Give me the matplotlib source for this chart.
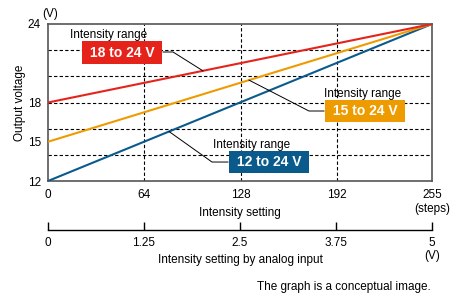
import matplotlib
matplotlib.use("Agg")
import matplotlib.pyplot as plt

plt.rcParams['font.family'] = ['Liberation Sans', 'DejaVu Sans']

# === Data ===
steps = [0, 255]
range_labels = ['12 to 24 V', '15 to 24 V', '18 to 24 V']
v_start = [12, 15, 18]
v_end = [24, 24, 24]
colors = ['#0b5a8c', '#ee9b00', '#e5231b']

x_ticks = [0, 64, 128, 192, 255]
y_ticks = [12, 15, 18, 24]
y_grid = [14, 16, 18, 20, 22]
analog_ticks = [0, 1.25, 2.5, 3.75, 5]
analog_labels = ['0', '1.25', '2.5', '3.75', '5']

fs = 8.5
fig = plt.figure(figsize=(4.54, 2.95), dpi=100)
W, H = 454, 295

def frac(px, py):
    return px / W, 1 - py / H

left, top = frac(48, 24)
right, bottom = frac(432, 181)
ax = fig.add_axes([left, bottom, right - left, top - bottom])

for yg in y_grid:
    ax.axhline(yg, color='black', lw=0.8, ls=(0, (3, 2)), zorder=1)
for xg in x_ticks[1:-1]:
    ax.axvline(xg, color='black', lw=0.8, ls=(0, (3, 2)), zorder=1)

for vs, ve, c in zip(v_start, v_end, colors):
    ax.plot(steps, [vs, ve], color=c, lw=1.5, zorder=3, solid_capstyle='butt')

ax.set_xlim(0, 255)
ax.set_ylim(12, 24)
ax.set_xticks(x_ticks)
ax.set_yticks(y_ticks)
ax.tick_params(axis='x', length=0, labelsize=fs, pad=6)
ax.tick_params(axis='y', length=0, labelsize=fs, pad=5)
for s in ax.spines.values():
    s.set_color('#555555')
    s.set_linewidth(1.2)
ax.set_ylabel('Output voltage', fontsize=fs, labelpad=1)
ax.set_xlabel('Intensity setting', fontsize=fs, labelpad=4)
fig.text(432 / W, 1 - 209 / H, '(steps)', fontsize=fs, ha='center', va='center')
fig.text(42 / W, 1 - 14 / H, '(V)', fontsize=fs, ha='left', va='center')

# range labels with leader lines
box_pos = [(146.8, 13.45), (210.5, 17.35), (49.1, 21.82)]
title_pos = [(109.6, 14.75), (183.3, 18.65), (14.6, 23.16)]
leaders = [
    [(80.4, 15.78), (108.9, 13.45), (119.5, 13.45)],
    [(133.5, 19.71), (173.3, 17.35), (183.3, 17.35)],
    [(102.9, 20.42), (83.0, 21.86), (76.4, 21.86)],
]
for (bx, by), (tx, ty), path, lab, c in zip(box_pos, title_pos, leaders,
                                            range_labels, colors):
    xs, ys = zip(*path)
    ax.plot(xs, ys, color='black', lw=0.7, zorder=4)
    ax.text(bx, by, ' ' + lab + ' ', color='white', fontsize=10, fontweight='bold',
            ha='center', va='center', zorder=5,
            bbox=dict(boxstyle='square,pad=0.3', fc=c, ec='none'))
    ax.text(tx, ty, 'Intensity range', fontsize=fs, ha='left', va='center', zorder=5)

# analog input scale
l2, b2 = frac(48, 230)
ax2 = fig.add_axes([l2, b2, right - left, 0.001])
ax2.set_xlim(0, 5)
ax2.set_yticks([])
for k in ['top', 'left', 'right']:
    ax2.spines[k].set_visible(False)
ax2.spines['bottom'].set_color('black')
ax2.spines['bottom'].set_linewidth(1.0)
ax2.patch.set_alpha(0)
ax2.set_xticks(analog_ticks)
ax2.set_xticklabels(analog_labels)
ax2.tick_params(axis='x', direction='in', length=6, width=1.0, labelsize=fs, pad=5)
ax2.set_xlabel('Intensity setting by analog input', fontsize=fs, labelpad=4)
fig.text(432 / W, 1 - 256 / H, '(V)', fontsize=fs, ha='center', va='center')

fig.text(431 / W, 1 - 287 / H, 'The graph is a conceptual image.',
         fontsize=fs, ha='right', va='center')

fig.savefig('out.png', dpi=100)
